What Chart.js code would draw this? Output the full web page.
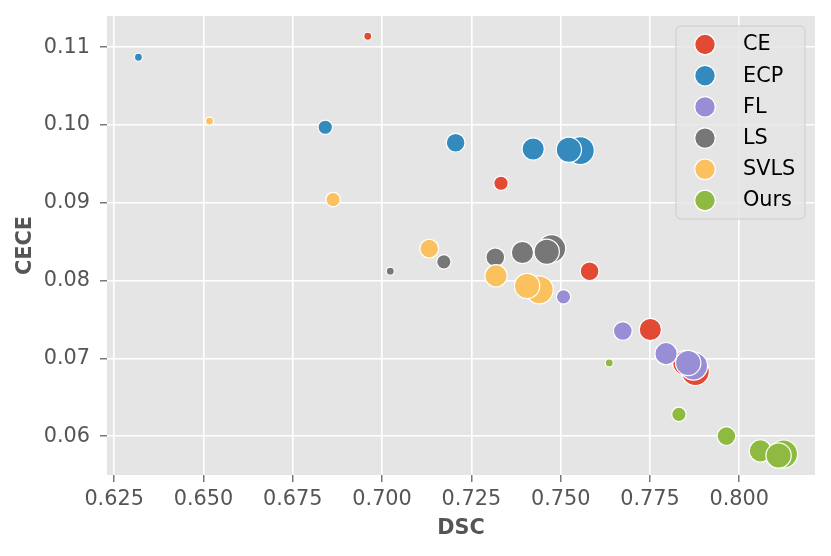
<!DOCTYPE html>
<html>
<head>
<meta charset="utf-8">
<title>CECE vs DSC</title>
<script src="https://cdn.jsdelivr.net/npm/chart.js@4.4.1/dist/chart.umd.min.js"></script>
<style>
  html, body { margin: 0; padding: 0; background: #fff; }
  #wrap { width: 831px; height: 556px; }
</style>
</head>
<body>
<div id="wrap"><canvas id="chart" width="831" height="556"></canvas></div>
<script>
// Methods and their colours
const methods = ["CE", "ECP", "FL", "LS", "SVLS", "Ours"];
const colors = ["#E24A33", "#348ABD", "#988ED5", "#777777", "#FBC15E", "#8EBA42"];

// Size level of the six runs of each method (shown as marker size)
const sizeLevels = [1, 2, 3, 4, 5, 6];

// DSC / CECE per method, one value per size level
const ceDSC = [0.696, 0.7333, 0.7581, 0.7751, 0.7849, 0.7877];
const ceCECE = [0.1114, 0.0925, 0.0812, 0.0737, 0.0694, 0.0683];
const ecpDSC = [0.6318, 0.6841, 0.7206, 0.7423, 0.7523, 0.7555];
const ecpCECE = [0.1087, 0.0997, 0.0977, 0.0969, 0.0968, 0.0967];
const flDSC = [0.7858, 0.7508, 0.7674, 0.7795, 0.7857, 0.7872];
const flCECE = [0.0694, 0.0779, 0.0735, 0.0706, 0.0694, 0.069];
const lsDSC = [0.7023, 0.7173, 0.7317, 0.7393, 0.7461, 0.7475];
const lsCECE = [0.0812, 0.0824, 0.083, 0.0836, 0.0837, 0.0841];
const svlsDSC = [0.6517, 0.6863, 0.7132, 0.7319, 0.7406, 0.744];
const svlsCECE = [0.1005, 0.0904, 0.0841, 0.0806, 0.0793, 0.0788];
const oursDSC = [0.7636, 0.7831, 0.7964, 0.8059, 0.811, 0.8124];
const oursCECE = [0.0694, 0.0628, 0.06, 0.0581, 0.0575, 0.0577];

// Axis ticks
const xTicks = [0.625, 0.65, 0.675, 0.7, 0.725, 0.75, 0.775, 0.8];
const yTicks = [0.06, 0.07, 0.08, 0.09, 0.1, 0.11];

const allDSC = [ceDSC, ecpDSC, flDSC, lsDSC, svlsDSC, oursDSC];
const allCECE = [ceCECE, ecpCECE, flCECE, lsCECE, svlsCECE, oursCECE];

// largest run is drawn first, the rest on top of it
const drawOrder = [5, 0, 1, 2, 3, 4];

function radiusFor(level) {
  // marker area grows linearly with the size level
  return Math.sqrt(16 + (level - 1) * 36);
}

const datasets = methods.map((name, i) => ({
  label: name,
  data: drawOrder.map((k) => ({
    x: allDSC[i][k],
    y: allCECE[i][k],
    r: radiusFor(sizeLevels[k]),
  })),
  backgroundColor: colors[i],
  borderColor: "#ffffff",
  borderWidth: 1.2,
  order: methods.length - i,
}));

const FONT = "'DejaVu Sans', sans-serif";
const FS = 20.8;

// grey panel behind the plot
const panelBackground = {
  id: "panelBackground",
  beforeDraw(chart) {
    const { ctx, chartArea } = chart;
    ctx.save();
    ctx.fillStyle = "#E5E5E5";
    ctx.fillRect(chartArea.left, chartArea.top, chartArea.right - chartArea.left, chartArea.bottom - chartArea.top);
    ctx.restore();
  },
};

// legend box inside the plot, top right
const insideLegend = {
  id: "insideLegend",
  afterDatasetsDraw(chart) {
    const { ctx } = chart;
    const x = 676, y = 26, w = 129, h = 193, rad = 5;
    ctx.save();
    ctx.beginPath();
    ctx.roundRect(x, y, w, h, rad);
    ctx.fillStyle = "rgba(229,229,229,0.8)";
    ctx.fill();
    ctx.strokeStyle = "#CCCCCC";
    ctx.lineWidth = 1;
    ctx.stroke();

    chart.data.datasets.forEach((ds, i) => {
      const cy = 44.5 + i * 31.2;
      ctx.beginPath();
      ctx.arc(705, cy, 10.3, 0, Math.PI * 2);
      ctx.fillStyle = ds.backgroundColor;
      ctx.fill();
      ctx.strokeStyle = "#ffffff";
      ctx.lineWidth = 1.2;
      ctx.stroke();
      ctx.fillStyle = "#000000";
      ctx.font = FS + "px " + FONT;
      ctx.textBaseline = "middle";
      ctx.textAlign = "left";
      ctx.fillText(ds.label, 743, cy + 0.5);
    });
    ctx.restore();
  },
};

new Chart(document.getElementById("chart"), {
  type: "bubble",
  data: { datasets },
  options: {
    responsive: false,
    animation: false,
    devicePixelRatio: 1,
    layout: { padding: { top: 16, right: 16, left: 0, bottom: 0 } },
    plugins: {
      legend: { display: false },
      tooltip: { enabled: false },
    },
    scales: {
      x: {
        type: "linear",
        min: 0.623,
        max: 0.8212,
        afterBuildTicks: (s) => {
          s.ticks = xTicks.map((v) => ({ value: v }));
        },
        afterFit: (s) => {
          s.height = 81;
          s.paddingLeft = 0;
          s.paddingRight = 0;
        },
        ticks: {
          callback: (v) => Number(v).toFixed(3),
          font: { size: FS, family: FONT },
          color: "#555555",
          padding: 5,
          maxRotation: 0,
          autoSkip: false,
        },
        grid: { color: "#ffffff", lineWidth: 1.6, tickColor: "#555555", tickLength: 7, tickWidth: 1.2 },
        border: { display: false },
        title: {
          display: true,
          text: "DSC",
          color: "#555555",
          font: { size: FS, family: FONT, weight: "bold" },
          padding: { top: 0, bottom: 15 },
        },
      },
      y: {
        type: "linear",
        min: 0.055,
        max: 0.114,
        afterBuildTicks: (s) => {
          s.ticks = yTicks.map((v) => ({ value: v }));
        },
        afterFit: (s) => {
          s.width = 107;
          s.paddingTop = 0;
          s.paddingBottom = 0;
        },
        ticks: {
          callback: (v) => Number(v).toFixed(2),
          font: { size: FS, family: FONT },
          color: "#555555",
          padding: 10,
          autoSkip: false,
        },
        grid: { color: "#ffffff", lineWidth: 1.6, tickColor: "#555555", tickLength: 7, tickWidth: 1.2 },
        border: { display: false },
        title: {
          display: true,
          text: "CECE",
          color: "#555555",
          font: { size: FS, family: FONT, weight: "bold" },
          padding: { top: 13, bottom: 0 },
        },
      },
    },
  },
  plugins: [panelBackground, insideLegend],
});
</script>
</body>
</html>
